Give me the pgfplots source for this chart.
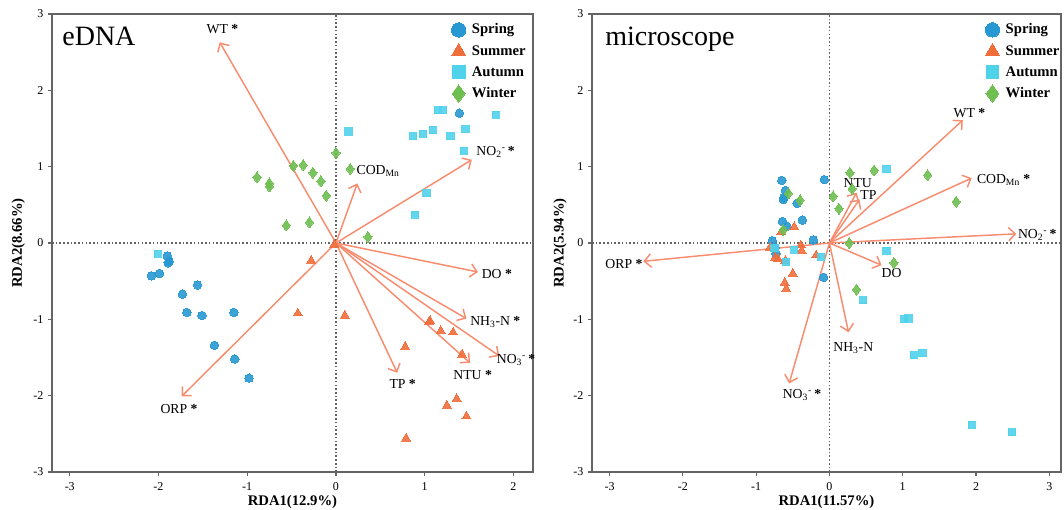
\documentclass[border=0pt]{standalone}
\usepackage{fontspec}
\setmainfont{Liberation Serif}
\usepackage{pgfplots}
\pgfplotsset{compat=1.18}
\usetikzlibrary{arrows.meta}
\definecolor{spring}{RGB}{40,152,210}
\definecolor{summer}{RGB}{240,110,60}
\definecolor{autumn}{RGB}{80,210,235}
\definecolor{winter}{RGB}{110,190,80}
\definecolor{arrowc}{RGB}{248,140,110}
\definecolor{framec}{RGB}{100,100,100}
\tikzset{
  zl/.style={framec, line width=0.8pt, dash pattern=on 1.2pt off 1.6pt},
  lab/.style={anchor=west, inner sep=0pt, font=\fontsize{10.3}{12}\selectfont},
}
\pgfplotsset{
  rdabase/.style={
    scale only axis, height=343.5pt, ymin=-3, ymax=3, clip=false,
    axis line style={draw=framec, line width=1.1pt},
    tick align=outside, xtick pos=lower, ytick pos=left,
    major tick length=3pt, tick style={framec, line width=0.8pt},
    ytick={-3,-2,-1,0,1,2,3},
    tick label style={font=\fontsize{9}{10}\selectfont},
    xticklabel style={yshift=-1.5pt},
    /pgf/number format/assume math mode=true,
    label style={font=\bfseries\fontsize{11}{12}\selectfont},
    xlabel style={at={(axis description cs:0.5,-0.066)}, anchor=center},
    legend cell align=left,
    legend style={anchor=north west, draw=none, fill=none,
      font=\bfseries\fontsize{11}{12}\selectfont, row sep=3pt, inner sep=0pt,
      column sep=2.5pt},
  },
  legimg/.style={legend image code/.code={\draw[##1] plot coordinates {(0pt,0pt)};}},
  sp/.style={only marks, color=spring, mark=*, mark size=3.2pt, mark options={fill=spring, line width=0pt, opacity=0.9}, forget plot},
  su/.style={only marks, color=summer, mark=triangle*, mark size=3.9pt, mark options={fill=summer, line width=0pt, opacity=0.9}, forget plot},
  au/.style={only marks, color=autumn, mark=square*, mark size=2.7pt, mark options={fill=autumn, line width=0pt, opacity=0.9}, forget plot},
  wi/.style={only marks, color=winter, mark=diamond*, mark size=4.1pt, mark options={fill=winter, line width=0pt, opacity=0.9}, forget plot},
  arr/.style={arrowc, line width=1.1pt, -{Straight Barb[length=5pt,width=10pt,line width=1.1pt]}, forget plot},
}
\newcommand{\st}{\ \textbf{*}}
\newcommand{\sst}{\,\textbf{*}}
\begin{document}
\begin{tikzpicture}
\path[use as bounding box] (-39pt,-28.5pt) rectangle (759pt,354pt);
% ---------------- eDNA ----------------
\begin{axis}[rdabase, at={(0pt,0pt)}, anchor=south west, width=360.75pt,
  xmin=-3.2, xmax=2.22, xtick={-3,-2,-1,0,1,2},
  xlabel={RDA1(12.9\%)}, ylabel={RDA2(8.66\%)},
  ylabel style={at={(axis description cs:-0.07,0.5)}, anchor=center},
  legend style={at={(rel axis cs:0.830,0.985)}}]
\addlegendimage{only marks, color=spring, mark=*, mark size=5.4pt, mark options={fill=spring, line width=0pt}, legimg}
\addlegendentry{Spring}
\addlegendimage{only marks, color=summer, mark=triangle*, mark size=6pt, mark options={fill=summer, line width=0pt}, legimg}
\addlegendentry{Summer}
\addlegendimage{only marks, color=autumn, mark=square*, mark size=4.8pt, mark options={fill=autumn, line width=0pt}, legimg}
\addlegendentry{Autumn}
\addlegendimage{only marks, color=winter, mark=diamond*, mark size=6.5pt, mark options={fill=winter, line width=0pt}, legimg}
\addlegendentry{Winter}
\draw[zl] (axis cs:0,-3) -- (axis cs:0,3);
\draw[zl] (axis cs:-3.2,0) -- (axis cs:2.22,0);
\addplot[arr] coordinates {(0,0) (-1.31,2.63)};
\addplot[arr] coordinates {(0,0) (0.24,0.78)};
\addplot[arr] coordinates {(0,0) (1.53,1.09)};
\addplot[arr] coordinates {(0,0) (1.60,-0.38)};
\addplot[arr] coordinates {(0,0) (1.47,-0.99)};
\addplot[arr] coordinates {(0,0) (1.84,-1.48)};
\addplot[arr] coordinates {(0,0) (1.51,-1.57)};
\addplot[arr] coordinates {(0,0) (0.69,-1.70)};
\addplot[arr] coordinates {(0,0) (-1.74,-2.01)};
\addplot[sp] coordinates {(1.39,1.70) (-1.90,-0.17) (-1.89,-0.26) (-1.88,-0.24) (-1.99,-0.40) (-2.08,-0.43) (-1.56,-0.55) (-1.73,-0.67) (-1.68,-0.91) (-1.51,-0.95) (-1.15,-0.91) (-1.37,-1.34) (-1.14,-1.52) (-0.98,-1.77)};
\addplot[su] coordinates {(-0.02,-0.02) (-0.28,-0.23) (-0.43,-0.92) (0.10,-0.95) (1.05,-1.03) (1.06,-1.02) (1.18,-1.15) (1.32,-1.17) (0.78,-1.36) (1.42,-1.46) (1.36,-2.04) (1.25,-2.13) (1.47,-2.27) (0.79,-2.56)};
\addplot[au] coordinates {(0.14,1.46) (0.87,1.40) (0.98,1.43) (1.09,1.48) (1.15,1.74) (1.21,1.74) (1.29,1.40) (1.46,1.49) (1.80,1.68) (1.44,1.21) (1.02,0.65) (0.89,0.37) (-2.01,-0.14)};
\addplot[wi] coordinates {(0.00,1.18) (0.16,0.97) (-0.48,1.01) (-0.37,1.02) (-0.26,0.92) (-0.17,0.81) (-0.11,0.62) (-0.89,0.86) (-0.75,0.78) (-0.75,0.74) (-0.56,0.23) (-0.30,0.27) (0.36,0.08)};
\node[lab] at (axis cs:-1.46,2.80) {WT\st};
\node[lab] at (axis cs:0.23,0.95) {COD\textsubscript{Mn}};
\node[lab] at (axis cs:1.58,1.19) {NO\textsubscript{2}\textsuperscript{-}\sst};
\node[lab] at (axis cs:1.64,-0.40) {DO\st};
\node[lab] at (axis cs:1.51,-1.03) {NH\textsubscript{3}-N\st};
\node[lab] at (axis cs:1.81,-1.53) {NO\textsubscript{3}\textsuperscript{-}\sst};
\node[lab] at (axis cs:1.32,-1.73) {NTU\st};
\node[lab] at (axis cs:0.60,-1.85) {TP\st};
\node[lab] at (axis cs:-1.98,-2.18) {ORP\st};
\node[anchor=north west, inner sep=0pt, font=\fontsize{21}{22}\selectfont] at (rel axis cs:0.021,0.973) {eDNA};
\end{axis}
% ---------------- microscope ----------------
\begin{axis}[rdabase, at={(405pt,0pt)}, anchor=south west, width=351.75pt,
  xmin=-3.24, xmax=3.16, xtick={-3,-2,-1,0,1,2,3},
  xlabel={RDA1(11.57\%)}, ylabel={RDA2(5.94\%)},
  ylabel style={at={(axis description cs:-0.068,0.5)}, anchor=center},
  legend style={at={(rel axis cs:0.838,0.985)}}]
\addlegendimage{only marks, color=spring, mark=*, mark size=5.4pt, mark options={fill=spring, line width=0pt}, legimg}
\addlegendentry{Spring}
\addlegendimage{only marks, color=summer, mark=triangle*, mark size=6pt, mark options={fill=summer, line width=0pt}, legimg}
\addlegendentry{Summer}
\addlegendimage{only marks, color=autumn, mark=square*, mark size=4.8pt, mark options={fill=autumn, line width=0pt}, legimg}
\addlegendentry{Autumn}
\addlegendimage{only marks, color=winter, mark=diamond*, mark size=6.5pt, mark options={fill=winter, line width=0pt}, legimg}
\addlegendentry{Winter}
\draw[zl] (axis cs:0,-3) -- (axis cs:0,3);
\draw[zl] (axis cs:-3.24,0) -- (axis cs:3.16,0);
\addplot[arr] coordinates {(0,0) (1.82,1.61)};
\addplot[arr] coordinates {(0,0) (1.94,0.85)};
\addplot[arr] coordinates {(0,0) (2.55,0.12)};
\addplot[arr] coordinates {(0,0) (0.37,0.66)};
\addplot[arr] coordinates {(0,0) (0.41,0.57)};
\addplot[arr] coordinates {(0,0) (0.71,-0.29)};
\addplot[arr] coordinates {(0,0) (0.26,-1.17)};
\addplot[arr] coordinates {(0,0) (-0.55,-1.84)};
\addplot[arr] coordinates {(0,0) (-2.54,-0.24)};
\addplot[sp] coordinates {(-0.65,0.82) (-0.07,0.83) (-0.60,0.69) (-0.63,0.57) (-0.62,0.59) (-0.44,0.52) (-0.37,0.30) (-0.64,0.28) (-0.58,0.22) (-0.22,0.04) (-0.78,0.03) (-0.74,-0.06) (-0.73,-0.14) (-0.08,-0.45)};
\addplot[su] coordinates {(-0.48,0.21) (-0.66,0.14) (-0.39,-0.03) (-0.38,-0.10) (-0.18,-0.16) (-0.74,-0.19) (-0.70,-0.21) (-0.60,-0.23) (-0.50,-0.40) (-0.61,-0.52) (-0.59,-0.60) (-0.81,-0.06)};
\addplot[au] coordinates {(0.78,0.97) (-0.48,-0.09) (-0.75,-0.07) (-0.59,-0.25) (-0.11,-0.18) (0.78,-0.10) (0.46,-0.75) (1.02,-1.00) (1.08,-0.99) (1.15,-1.47) (1.27,-1.44) (1.94,-2.38) (2.49,-2.48)};
\addplot[wi] coordinates {(0.28,0.92) (0.61,0.95) (1.34,0.89) (1.73,0.54) (0.05,0.61) (0.13,0.45) (0.31,0.71) (-0.56,0.65) (-0.40,0.56) (-0.63,0.17) (0.27,0.00) (0.88,-0.26) (0.37,-0.61)};
\node[lab] at (axis cs:1.69,1.70) {WT\st};
\node[lab] at (axis cs:2.01,0.82) {COD\textsubscript{Mn}\st};
\node[lab] at (axis cs:2.57,0.11) {NO\textsubscript{2}\textsuperscript{-}\sst};
\node[lab] at (axis cs:0.19,0.78) {NTU};
\node[lab] at (axis cs:0.42,0.63) {TP};
\node[lab] at (axis cs:0.71,-0.39) {DO};
\node[lab] at (axis cs:0.05,-1.37) {NH\textsubscript{3}-N};
\node[lab] at (axis cs:-0.64,-1.99) {NO\textsubscript{3}\textsuperscript{-}\sst};
\node[lab] at (axis cs:-3.06,-0.27) {ORP\st};
\node[anchor=north west, inner sep=0pt, font=\fontsize{21}{22}\selectfont] at (rel axis cs:0.028,0.973) {microscope};
\end{axis}
\end{tikzpicture}
\end{document}
